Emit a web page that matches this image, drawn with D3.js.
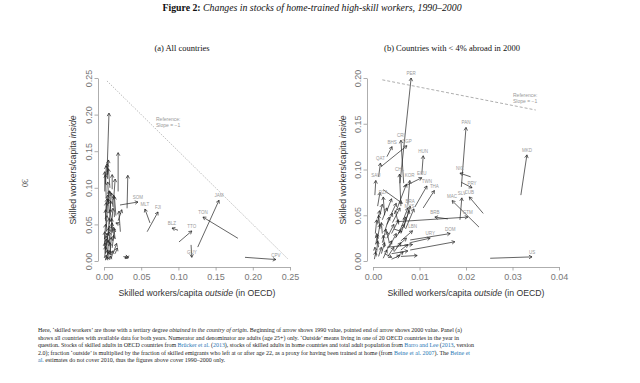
<!DOCTYPE html>
<html>
<head>
<meta charset="utf-8">
<title>Changes in stocks of home-trained high-skill workers, 1990-2000</title>
<script src="https://cdn.jsdelivr.net/npm/d3@7"></script>
<style>body{margin:0;background:#fff}</style>
</head>
<body>
<script>
// ticks
var xTicksA = [0, 0.05, 0.10, 0.15, 0.20, 0.25];
var yTicksA = [0, 0.05, 0.10, 0.15, 0.20, 0.25];
var xTicksB = [0, 0.01, 0.02, 0.03, 0.04];
var yTicksB = [0, 0.05, 0.10, 0.15, 0.20];

// panel (a): 1990 value -> 2000 value, [outside, inside]; unlisted codes are unlabelled arrows
var aCodes = ["SOM","MLT","FJI","BLZ","TTO","GUY","TON","JAM","CPV"];
var aFrom = [[0.0215,0.0765],[0.0618,0.052],[0.058,0.040],[0.0995,0.042],[0.1008,0.026],[0.117,0.022],
  [0.180,0.031],[0.126,0.019],[0.1895,0.005],[0.026,0.006],[0.034,0.007],[0.004,0.118],[0.019,0.095],[0.031,0.072],
  [0.002,0.105],[0.005,0.112],[0.008,0.100],[0.011,0.098],[0.003,0.085],[0.006,0.078],[0.009,0.070],[0.012,0.074],
  [0.014,0.060],[0.004,0.062],[0.002,0.055],[0.007,0.050],[0.010,0.045],[0.016,0.062],[0.022,0.040],[0.019,0.055],
  [0.021,0.050],[0.003,0.040],[0.006,0.035],[0.009,0.030],[0.012,0.038],[0.001,0.030],[0.004,0.022],[0.008,0.020],
  [0.011,0.018],[0.002,0.015],[0.005,0.010],[0.009,0.008],[0.013,0.012],[0.001,0.005],[0.004,0.003],[0.007,0.002],
  [0.010,0.004],[0.002,0.001],[0.005,0.001],[0.008,0.002],[0.003,0.068],[0.006,0.088],[0.001,0.095],[0.013,0.085],
  [0.006,0.025],[0.010,0.055],[0.015,0.030],[0.003,0.048],[0.007,0.065],[0.012,0.028],[0.001,0.020],[0.004,0.012],
  [0.008,0.012],[0.002,0.010],[0.015,0.010],[0.005,0.118],[0.009,0.040],[0.011,0.008]];
var aTo = [[0.0457,0.0806],[0.055,0.071],[0.0726,0.067],[0.0914,0.045],[0.118,0.041],[0.118,0.005],
  [0.133,0.060],[0.1546,0.083],[0.231,0.002],[0.033,0.005],[0.028,0.004],[0.0067,0.202],[0.019,0.148],[0.032,0.117],
  [0.003,0.130],[0.004,0.133],[0.006,0.126],[0.011,0.118],[0.002,0.118],[0.007,0.096],[0.008,0.095],[0.010,0.093],
  [0.013,0.090],[0.005,0.090],[0.003,0.080],[0.009,0.082],[0.012,0.072],[0.014,0.088],[0.020,0.068],[0.024,0.070],
  [0.016,0.052],[0.004,0.062],[0.007,0.058],[0.011,0.052],[0.010,0.058],[0.002,0.050],[0.006,0.045],[0.007,0.040],
  [0.013,0.035],[0.003,0.034],[0.006,0.028],[0.008,0.025],[0.017,0.024],[0.002,0.020],[0.005,0.015],[0.006,0.012],
  [0.012,0.014],[0.003,0.008],[0.004,0.006],[0.009,0.007],[0.004,0.085],[0.005,0.108],[0.001,0.122],[0.015,0.112],
  [0.004,0.038],[0.008,0.070],[0.013,0.046],[0.002,0.070],[0.006,0.085],[0.014,0.044],[0.001,0.040],[0.003,0.030],
  [0.010,0.032],[0.001,0.025],[0.018,0.018],[0.006,0.138],[0.007,0.048],[0.007,0.014]];

// panel (b)
var bCodes = ["PER","CRI","BHS","SGP","QAT","HUN","PAN","MKD","NIC","PRY","CUB","MAC","SLV","GTM","BRB",
  "DOM","URY","","US","ECU","TWN","THA","SAU","","CHL","KOR","","DZA","BRA","MYS","","LBN"];
var bFrom = [[0.0058,0.085],[0.0066,0.085],[0.0030,0.114],[0.0017,0.103],[0.0012,0.092],[0.0105,0.095],
  [0.0190,0.081],[0.0318,0.072],[0.0210,0.092],[0.0190,0.086],[0.0237,0.052],[0.0228,0.037],[0.0187,0.045],
  [0.0052,0.043],[0.0161,0.046],[0.0080,0.023],[0.0080,0.020],[0.0080,0.012],[0.0252,0.003],[0.0065,0.081],
  [0.0090,0.059],[0.0108,0.058],[0.0004,0.072],[0.0022,0.078],[0.0060,0.060],[0.0075,0.062],[0.0050,0.055],
  [0.0025,0.050],[0.0068,0.040],[0.0060,0.030],[0.0070,0.035],[0.0060,0.022],[0.0040,0.008],[0.0030,0.015],
  [0.0060,0.005],
  [0.0005,0.030],[0.0010,0.025],[0.0015,0.035],[0.0020,0.020],[0.0025,0.032],[0.0030,0.025],[0.0035,0.015],
  [0.0040,0.030],[0.0008,0.010],[0.0012,0.005],[0.0018,0.008],[0.0022,0.003],[0.0028,0.010],[0.0032,0.005],
  [0.0045,0.010],[0.0050,0.004],[0.0003,0.002],[0.0006,0.018],[0.0010,0.040],[0.0020,0.045],[0.0030,0.040],
  [0.0042,0.042],[0.0048,0.025],[0.0055,0.030],[0.0038,0.050],[0.0015,0.050],[0.0025,0.015],[0.0035,0.020],
  [0.0040,0.002],[0.0060,0.012],[0.0055,0.040],[0.0012,0.015],[0.0007,0.005],[0.0020,0.030],[0.0045,0.035],
  [0.0030,0.055],[0.0065,0.045],[0.0010,0.060],[0.0050,0.015],[0.0025,0.008]];
var bTo = [[0.0082,0.200],[0.0060,0.132],[0.0041,0.125],[0.0073,0.126],[0.0016,0.107],[0.0108,0.115],
  [0.0200,0.146],[0.0331,0.116],[0.0187,0.096],[0.0213,0.080],[0.0207,0.070],[0.0170,0.066],[0.0191,0.069],
  [0.0204,0.048],[0.0133,0.048],[0.0166,0.030],[0.0123,0.025],[0.0176,0.021],[0.0342,0.0045],[0.0105,0.091],
  [0.0116,0.082],[0.0132,0.077],[0.0006,0.088],[0.0063,0.063],[0.0057,0.095],[0.0079,0.088],[0.0072,0.084],
  [0.0022,0.070],[0.0080,0.060],[0.0078,0.055],[0.0088,0.057],[0.0085,0.033],[0.0075,0.011],[0.0085,0.018],
  [0.0095,0.006],
  [0.0008,0.045],[0.0015,0.040],[0.0012,0.050],[0.0028,0.035],[0.0035,0.048],[0.0045,0.040],[0.0050,0.030],
  [0.0055,0.045],[0.0010,0.022],[0.0018,0.015],[0.0025,0.020],[0.0030,0.012],[0.0040,0.022],[0.0045,0.015],
  [0.0060,0.020],[0.0065,0.010],[0.0006,0.010],[0.0009,0.028],[0.0014,0.055],[0.0030,0.058],[0.0042,0.052],
  [0.0058,0.058],[0.0068,0.040],[0.0070,0.048],[0.0050,0.063],[0.0020,0.062],[0.0022,0.028],[0.0030,0.032],
  [0.0058,0.006],[0.0075,0.018],[0.0048,0.055],[0.0008,0.030],[0.0004,0.015],[0.0018,0.042],[0.0062,0.032],
  [0.0040,0.068],[0.0075,0.058],[0.0015,0.075],[0.0072,0.025],[0.0040,0.004]];

var w = 640, h = 383;
var svg = d3.select("body").append("svg").attr("width", w).attr("height", h);
var sans = "'Liberation Sans', Arial, sans-serif";
var serif = "'Liberation Serif', 'Times New Roman', serif";

// title
svg.append("text").attr("x", 312).attr("y", 11).attr("text-anchor", "middle")
  .attr("font-family", serif).attr("font-size", 9.8).attr("fill", "#111")
  .call(function(t) {
    t.append("tspan").attr("font-weight", "bold").text("Figure 2:");
    t.append("tspan").attr("font-style", "italic").text(" Changes in stocks of home-trained high-skill workers, 1990–2000");
  });

// page number
svg.append("text").attr("transform", "translate(22,183) rotate(90)").attr("text-anchor", "middle")
  .attr("font-family", serif).attr("font-size", 8).attr("fill", "#333").text("30");

function panel(p) {
  var x = d3.scaleLinear().domain(p.xDom).range(p.xRange);
  var y = d3.scaleLinear().domain(p.yDom).range([261, 78]);
  var g = svg.append("g");

  g.append("text").attr("x", p.titleX).attr("y", 51).attr("text-anchor", "middle")
    .attr("font-family", serif).attr("font-size", 8.5).attr("fill", "#111").text(p.title);

  var xa = g.append("g").attr("transform", "translate(0,267)")
    .call(d3.axisBottom(x).tickValues(p.xTicks).tickFormat(d3.format(".2f")).tickSize(3.5).tickSizeOuter(0));
  xa.selectAll("text").attr("y", 7).attr("dy", "0.71em");

  var ya = g.append("g").attr("transform", "translate(" + (p.xRange[0] - 6) + ",0)")
    .call(d3.axisLeft(y).tickValues(p.yTicks).tickFormat(d3.format(".2f")).tickSize(3.5).tickSizeOuter(0));
  ya.selectAll("text").attr("transform", "rotate(-90)").attr("x", 0).attr("y", -6)
    .attr("dy", 0).attr("text-anchor", "middle");

  [xa, ya].forEach(function(a) {
    a.attr("font-family", sans).attr("font-size", 9);
    a.selectAll("path, line").attr("stroke", "#999").attr("stroke-width", 0.8);
    a.selectAll("text").attr("fill", "#777");
  });

  g.append("text").attr("x", (p.xRange[0] + p.xRange[1]) / 2).attr("y", 296).attr("text-anchor", "middle")
    .attr("font-family", sans).attr("font-size", 8.7).attr("fill", "#333")
    .call(function(t) {
      t.append("tspan").text("Skilled workers/capita ");
      t.append("tspan").attr("font-style", "italic").text("outside");
      t.append("tspan").text(" (in OECD)");
    });
  g.append("text").attr("transform", "translate(" + p.yTitleX + ",170) rotate(-90)").attr("text-anchor", "middle")
    .attr("font-family", sans).attr("font-size", 8.7).attr("fill", "#333")
    .call(function(t) {
      t.append("tspan").text("Skilled workers/capita ");
      t.append("tspan").attr("font-style", "italic").text("inside");
    });

  // reference slope -1
  g.append("line").attr("x1", x(p.refX[0])).attr("y1", y(p.refC - p.refX[0]))
    .attr("x2", x(p.refX[1])).attr("y2", y(p.refC - p.refX[1]))
    .attr("stroke", "#999").attr("stroke-width", 0.8).attr("stroke-dasharray", p.dash);
  g.append("text").attr("x", p.refLab[0]).attr("y", p.refLab[1])
    .attr("font-family", sans).attr("font-size", 5).attr("fill", "#999")
    .call(function(t) {
      t.append("tspan").attr("x", p.refLab[0]).text("Reference:");
      t.append("tspan").attr("x", p.refLab[0]).attr("dy", 6).text("Slope = −1");
    });

  var rows = p.from.map(function(f, i) { return {code: p.codes[i] || "", from: f, to: p.to[i]}; });

  g.selectAll("path.arr").data(rows).enter().append("path")
    .attr("class", "arr")
    .attr("fill", "none").attr("stroke", "#222").attr("stroke-width", 0.7)
    .attr("d", function(d) {
      var x0 = x(d.from[0]), y0 = y(d.from[1]), x1 = x(d.to[0]), y1 = y(d.to[1]);
      var a = Math.atan2(y1 - y0, x1 - x0), L = 3.5, s = Math.PI / 6;
      return "M" + x0 + "," + y0 + "L" + x1 + "," + y1 +
        "M" + (x1 - L * Math.cos(a - s)) + "," + (y1 - L * Math.sin(a - s)) +
        "L" + x1 + "," + y1 +
        "L" + (x1 - L * Math.cos(a + s)) + "," + (y1 - L * Math.sin(a + s));
    });

  g.selectAll("text.code").data(rows.filter(function(d) { return d.code; })).enter().append("text")
    .attr("class", "code")
    .attr("x", function(d) { return x(d.to[0]); })
    .attr("y", function(d) { return y(d.to[1]) - 3; })
    .attr("text-anchor", "middle").attr("font-family", sans).attr("font-size", 4.5).attr("fill", "#999")
    .text(function(d) { return d.code; });
}

panel({title: "(a) All countries", titleX: 182, xDom: [0, 0.25], xRange: [104, 290], yDom: [0, 0.25],
  xTicks: xTicksA, yTicks: yTicksA, yTitleX: 76, refC: 0.25, refX: [0.004, 0.247], dash: "1.2,1.6",
  refLab: [156, 121], codes: aCodes, from: aFrom, to: aTo});
panel({title: "(b) Countries with < 4% abroad in 2000", titleX: 452, xDom: [0, 0.04], xRange: [373, 559], yDom: [0, 0.2],
  xTicks: xTicksB, yTicks: yTicksB, yTitleX: 346, refC: 0.2, refX: [0.002, 0.035], dash: "3,2",
  refLab: [513, 97], codes: bCodes, from: bFrom, to: bTo});

// notes
var blue = "#2a78b5";
var notes = [
  [["Here, ‘skilled workers’ are those with a tertiary degree "], ["obtained in the country of origin", "i"],
   [". Beginning of arrow shows 1990 value, pointed end of arrow shows 2000 value. Panel (a)"]],
  [["shows all countries with available data for both years. Numerator and denominator are adults (age 25+) only. ‘Outside’ means living in one of 20 OECD countries in the year in"]],
  [["question. Stocks of skilled adults in OECD countries from "], ["Brücker et al.", "b"], [" ("], ["2013", "b"],
   ["), stocks of skilled adults in home countries and total adult population from "], ["Barro and Lee", "b"],
   [" ("], ["2013", "b"], [", version"]],
  [["2.0); fraction ‘outside’ is multiplied by the fraction of skilled emigrants who left at or after age 22, as a proxy for having been trained at home (from "],
   ["Beine et al. 2007", "b"], ["). The "], ["Beine et", "b"]],
  [["al.", "b"], [" estimates do not cover 2010, thus the figures above cover 1990–2000 only."]]
];
var noteEnds = [462, 459, 474, 470, 0];
notes.forEach(function(line, i) {
  var t = svg.append("text").attr("x", 38).attr("y", 332 + i * 7.6)
    .attr("font-family", serif).attr("font-size", 6).attr("fill", "#222");
  if (noteEnds[i]) t.attr("textLength", noteEnds[i] - 38).attr("lengthAdjust", "spacing");
  line.forEach(function(seg) {
    var s = t.append("tspan").text(seg[0]);
    if (seg[1] === "i") s.attr("font-style", "italic");
    if (seg[1] === "b") s.attr("fill", blue);
  });
});
</script>
</body>
</html>
